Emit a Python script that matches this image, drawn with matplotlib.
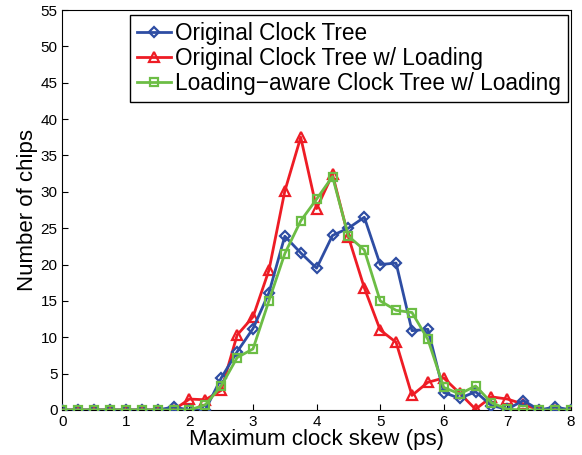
import numpy as np
import matplotlib
matplotlib.use("Agg")
from matplotlib import pyplot as plt

plt.rcParams['font.family'] = ['Liberation Sans', 'DejaVu Sans']

# skew bins (ps)
skew = [0, 0.25, 0.5, 0.75, 1, 1.25, 1.5, 1.75, 2, 2.25, 2.5, 2.75, 3, 3.25,
        3.5, 3.75, 4, 4.25, 4.5, 4.75, 5, 5.25, 5.5, 5.75, 6, 6.25, 6.5, 6.75,
        7, 7.25, 7.5, 7.75, 8]

original = [0, 0, 0, 0, 0, 0, 0, 0.4, 0, 0, 4.4, 8.0, 11.2, 16.1,
            23.9, 21.6, 19.5, 24.0, 25.0, 26.5, 20.0, 20.2, 10.9, 11.1, 2.4, 1.6, 2.5, 0.6,
            0.1, 1.3, 0, 0.4, 0]

orig_loading = [0, 0, 0, 0, 0, 0, 0, 0, 1.5, 1.4, 2.7, 10.3, 12.8, 19.2,
                30.1, 37.5, 27.7, 32.4, 23.8, 16.8, 11.0, 9.3, 2.0, 3.8, 4.4, 2.3, 0.1, 1.8,
                1.5, 0.8, 0, 0, 0]

aware_loading = [0, 0, 0, 0, 0, 0, 0, 0, 0, 0.7, 3.3, 7.2, 8.4, 15.0,
                 21.5, 26.0, 29.0, 32.1, 23.9, 22.0, 15.0, 13.7, 13.4, 9.7, 3.1, 2.2, 3.3, 1.0,
                 0.1, 0, 0, 0, 0]

labels = ['Original Clock Tree', 'Original Clock Tree w/ Loading',
          'Loading\u2212aware Clock Tree w/ Loading']

fig = plt.figure(figsize=(5.82, 4.55), dpi=100)
ax = fig.add_axes([0.107, 0.099, 0.874, 0.879])

ax.plot(skew, original, color='#2e4da3', lw=2, marker='D', ms=5.5,
        mfc='none', mew=1.6, label=labels[0], zorder=3)
ax.plot(skew, orig_loading, color='#ee1c25', lw=2, marker='^', ms=7,
        mfc='none', mew=1.6, label=labels[1], zorder=2)
ax.plot(skew, aware_loading, color='#6cbd45', lw=2, marker='s', ms=5.5,
        mfc='none', mew=1.6, label=labels[2], zorder=4)

ax.set_xlim(0, 8)
ax.set_ylim(0, 55)
ax.set_xticks(range(0, 9))
ax.set_yticks(range(0, 56, 5))
ax.tick_params(direction='in', labelsize=11, length=4, top=False, right=False)
ax.set_xlabel('Maximum clock skew (ps)', fontsize=16, labelpad=0)
ax.set_ylabel('Number of chips', fontsize=16, labelpad=2)

leg = ax.legend(loc='upper right', fontsize=16.3, handlelength=1.5,
                handletextpad=0.2, borderpad=0.3, labelspacing=0.1,
                borderaxespad=0, fancybox=False, framealpha=1, edgecolor='black',
                bbox_to_anchor=(0.994, 0.988))
leg.get_frame().set_linewidth(1.0)

fig.savefig('out.png', dpi=100)
